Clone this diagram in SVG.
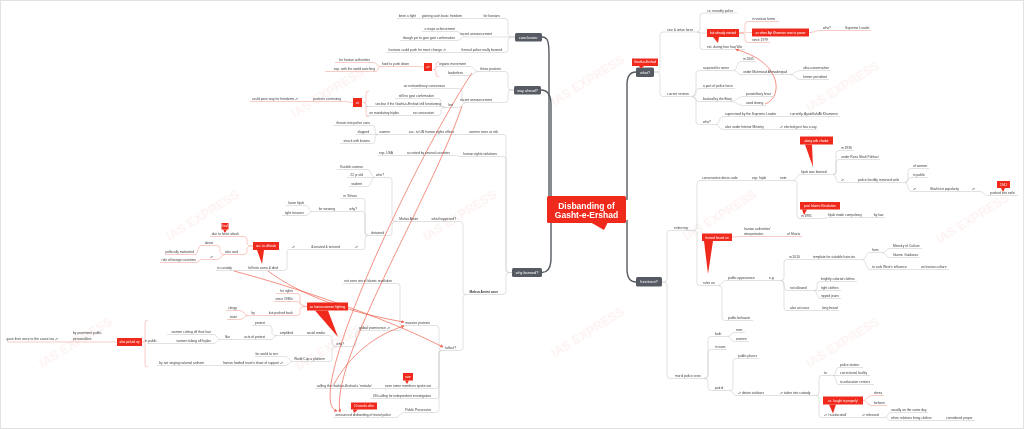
<svg xmlns="http://www.w3.org/2000/svg" width="1024" height="430" viewBox="0 0 1024 430">
<style>
text{font-family:"Liberation Sans",Arial,sans-serif;font-size:3.3px;fill:#3a3a3a}
.e{text-anchor:end}
.c{text-anchor:middle}
.w{fill:#fff}
.dk{font-size:3.8px;fill:#fff;text-anchor:middle}
.rt{font-size:3.1px;fill:#fff;text-anchor:middle}
.b{font-weight:bold}
.g path{fill:none;stroke:#cdcdcd;stroke-width:0.6}
.p path{fill:none;stroke:#f5a79e;stroke-width:0.6}
.r path{fill:none;stroke:#f0604e;stroke-width:0.7;marker-end:url(#ah)}
.d path{fill:none;stroke:#555a61;stroke-width:1.4}
.rb{fill:#ef2a1c}
.db{fill:#555a63}
.wm text{font-size:12.5px;font-weight:bold;fill:#f6cfca;text-anchor:middle}
</style>
<defs>
<marker id="ah" viewBox="0 0 6 6" refX="5" refY="3" markerWidth="3.2" markerHeight="3.2" markerUnits="userSpaceOnUse" orient="auto"><path d="M0,0L6,3L0,6z" fill="#f0604e"/></marker>
</defs>
<rect x="0" y="0" width="1024" height="430" fill="#fff"/>
<rect x="0.5" y="0.5" width="1023" height="428" fill="none" stroke="#e2e2e2" stroke-width="1"/>
<g class="wm" opacity="0.25">
<text transform="translate(330,96) rotate(-32)">IAS EXPRESS</text>
<text transform="translate(590,84) rotate(-32)">IAS EXPRESS</text>
<text transform="translate(845,90) rotate(-32)">IAS EXPRESS</text>
<text transform="translate(205,219) rotate(-32)">IAS EXPRESS</text>
<text transform="translate(462,219) rotate(-32)">IAS EXPRESS</text>
<text transform="translate(722,219) rotate(-32)">IAS EXPRESS</text>
<text transform="translate(975,222) rotate(-32)">IAS EXPRESS</text>
<text transform="translate(78,346) rotate(-32)">IAS EXPRESS</text>
<text transform="translate(335,349) rotate(-32)">IAS EXPRESS</text>
<text transform="translate(590,336) rotate(-32)">IAS EXPRESS</text>
<text transform="translate(845,346) rotate(-32)">IAS EXPRESS</text>
</g>
<g id="connectors">
<g class="d">
<path d="M542,37 C548,37 549,42 549,55 V200"/>
<path d="M541,90 C547,90 551,95 551,105 V200"/>
<path d="M542,272.5 C548,272.5 551,268 551,258 V220"/>
<path d="M636,72 C630,72 627,77 627,85 V200"/>
<path d="M636,282 C630,282 627,277 627,269 V220"/>
</g>
<g class="g">
<path d="M654,72 H657 Q660,72 660,69 V35 Q660,32 663,32 H697"/>
<path d="M654,72 H657 Q660,72 660,75 V93.5 Q660,96.5 663,96.5 H692"/>
<path d="M697,32 Q700,32 700,29 V16 Q700,13 703,13 H737"/>
<path d="M697,32 C700,32 700,33 703,33 H707"/>
<path d="M697,32 Q700,32 700,35 V46.5 Q700,49.5 703,49.5 H745"/>
<path d="M692,96.5 Q696,96.5 696,93.5 V73.5 Q696,70.5 699,70.5 H734"/>
<path d="M692,96.5 C695,96.5 695,88.5 699,88.5 H735"/>
<path d="M692,96.5 C695,96.5 695,101.5 699,101.5 H730"/>
<path d="M692,96.5 Q696,96.5 696,99.5 V121.5 Q696,124.5 699,124.5 H716"/>
<path d="M734,70.5 C737,70.5 737,61.5 741,61.5 H756"/>
<path d="M734,70.5 C737,70.5 737,74.5 741,74.5 H790"/>
<path d="M790,74.5 C795,74.5 795,70.5 800,70.5 H831"/>
<path d="M790,74.5 C795,74.5 795,79.5 800,79.5 H829"/>
<path d="M730,101.5 C737,101.5 737,96.5 744,96.5 H773"/>
<path d="M730,101.5 C737,101.5 737,105.5 744,105.5 H766"/>
<path d="M716,124.5 C719,124.5 719,116.5 723,116.5 H840"/>
<path d="M716,124.5 C719,124.5 719,129.5 723,129.5 H817"/>
<path d="M662,282 H664 Q667,282 667,279 V233.5 Q667,230.5 670,230.5 H692"/>
<path d="M662,282 H664 Q667,282 667,285 V375.5 Q667,378.5 670,378.5 H704"/>
<path d="M692,230.5 Q697,230.5 697,227.5 V183.5 Q697,180.5 700,180.5 H793"/>
<path d="M692,230.5 Q697,230.5 697,233.5 V282.5 Q697,285.5 700,285.5 H718"/>
<path d="M793,180.5 C797,180.5 797,174.5 800,174.5 H833"/>
<path d="M793,180.5 Q797,180.5 797,183.5 V215.5 Q797,218.5 800,218.5 H824"/>
<path d="M833,174.5 Q836,174.5 836,171.5 V153.5 Q836,150.5 839,150.5 H854"/>
<path d="M833,174.5 Q836,174.5 836,171.5 V162.5 Q836,159.5 839,159.5 H880"/>
<path d="M833,174.5 C836,174.5 836,182.5 839,182.5 H905"/>
<path d="M905,182.5 Q908,182.5 908,179.5 V171.5 Q908,168.5 911,168.5 H929"/>
<path d="M905,182.5 C908,182.5 908,177.5 911,177.5 H928"/>
<path d="M905,182.5 C908,182.5 908,191.5 911,191.5 H980 C984,191.5 984,195.5 988,195.5 H1018"/>
<path d="M824,218.5 C826,218.5 826,217.5 828,217.5 H885"/>
<path d="M718,285.5 C722,285.5 722,280.5 726,280.5 H781"/>
<path d="M718,285.5 Q722,285.5 722,288.5 V317.5 Q722,320.5 725,320.5 H753"/>
<path d="M781,280.5 Q784,280.5 784,277.5 V262.5 Q784,259.5 787,259.5 H862"/>
<path d="M781,280.5 C784,280.5 784,290.5 787,290.5 H814"/>
<path d="M781,280.5 Q784,280.5 784,283.5 V307.5 Q784,310.5 787,310.5 H839"/>
<path d="M862,259.5 C866,259.5 866,252.5 870,252.5 H882"/>
<path d="M862,259.5 C866,259.5 866,269.5 870,269.5 H949"/>
<path d="M882,252.5 C886,252.5 886,248.5 890,248.5 H922"/>
<path d="M882,252.5 C886,252.5 886,257.5 890,257.5 H919"/>
<path d="M814,290.5 Q817,290.5 817,287.5 V284.5 Q817,281.5 820,281.5 H857"/>
<path d="M814,290.5 H841"/>
<path d="M814,290.5 C817,290.5 817,298.5 820,298.5 H841"/>
<path d="M704,378.5 Q708,378.5 708,375.5 V339.5 Q708,336.5 711,336.5 H728"/>
<path d="M704,378.5 Q708,378.5 708,375.5 V352.5 Q708,349.5 711,349.5 H727"/>
<path d="M704,378.5 Q708,378.5 708,381.5 V387.5 Q708,390.5 711,390.5 H730"/>
<path d="M728,336.5 C731,336.5 731,332.5 734,332.5 H745"/>
<path d="M728,336.5 C731,336.5 731,341.5 734,341.5 H749"/>
<path d="M730,390.5 Q733,390.5 733,387.5 V361.5 Q733,358.5 736,358.5 H759"/>
<path d="M730,390.5 C733,390.5 733,395.5 736,395.5 H816"/>
<path d="M816,395.5 Q819,395.5 819,392.5 V378.5 Q819,375.5 822,375.5 H833"/>
<path d="M816,395.5 Q819,395.5 819,398.5 V414.5 Q819,417.5 822,417.5 H885"/>
<path d="M833,375.5 C836,375.5 836,367.5 838,367.5 H863"/>
<path d="M833,375.5 H870"/>
<path d="M833,375.5 C836,375.5 836,384.5 838,384.5 H874"/>
<path d="M885,417.5 C888,417.5 888,412.5 890,412.5 H928"/>
<path d="M885,417.5 C888,417.5 888,420.5 890,420.5 H975"/>
<path d="M515,37 H512 Q508,37 508,34 V21.5 Q508,18.5 505,18.5 H397"/>
<path d="M515,37 H465"/>
<path d="M515,37 H512 Q508,37 508,40 V49.5 Q508,52.5 505,52.5 H386"/>
<path d="M465,36.5 C461,36.5 461,31.5 457,31.5 H422"/>
<path d="M465,36.5 C461,36.5 461,40.5 457,40.5 H400"/>
<path d="M514,90 H511 Q508,90 508,87 V74.5 Q508,71.5 505,71.5 H478"/>
<path d="M514,90 H511 Q508,90 508,93 V99.5 Q508,102.5 505,102.5 H466"/>
<path d="M478,71.5 C474,71.5 474,66.5 470,66.5 H436"/>
<path d="M478,71.5 C474,71.5 474,75.5 470,75.5 H450"/>
<path d="M466,102.5 Q462,102.5 462,99.5 V91.5 Q462,88.5 459,88.5 H411"/>
<path d="M466,102.5 C462,102.5 462,107.5 459,107.5 H446"/>
<path d="M446,107.5 Q441,107.5 441,104.5 V101.5 Q441,98.5 438,98.5 H395"/>
<path d="M446,107.5 C444,107.5 444,106.5 442,106.5 H366"/>
<path d="M446,107.5 Q441,107.5 441,110.5 V112.5 Q441,115.5 438,115.5 H367"/>
<path d="M512,272.5 H509 Q506,272.5 506,269.5 V137.5 Q506,134.5 503,134.5 H378"/>
<path d="M512,272.5 H509 Q506,272.5 506,269.5 V159.5 Q506,156.5 503,156.5 H461 C458,156.5 458,155.5 455,155.5 H378"/>
<path d="M512,272.5 H509 Q506,272.5 506,275.5 V291.5 Q506,294.5 503,294.5 H466"/>
<path d="M378,134.5 Q375,134.5 375,131.5 V128.5 Q375,125.5 372,125.5 H333"/>
<path d="M378,134.5 H356"/>
<path d="M378,134.5 Q375,134.5 375,137.5 V140.5 Q375,143.5 372,143.5 H340"/>
<path d="M466,294.5 Q463,294.5 463,291.5 V224.5 Q463,221.5 460,221.5 H396"/>
<path d="M466,294.5 Q463,294.5 463,297.5 V347.5 Q463,350.5 460,350.5 H441"/>
<path d="M396,221.5 Q392,221.5 392,218.5 V180.5 Q392,177.5 389,177.5 H375"/>
<path d="M396,221.5 Q392,221.5 392,224.5 V232.5 Q392,235.5 389,235.5 H368"/>
<path d="M375,177.5 C371,177.5 371,169.5 368,169.5 H337"/>
<path d="M375,177.5 H347"/>
<path d="M375,177.5 C371,177.5 371,186.5 368,186.5 H349"/>
<path d="M368,235.5 Q365,235.5 365,232.5 V201.5 Q365,198.5 362,198.5 H341"/>
<path d="M368,235.5 Q365,235.5 365,232.5 V214.5 Q365,211.5 362,211.5 H312"/>
<path d="M368,235.5 Q365,235.5 365,238.5 V246.5 Q365,249.5 362,249.5 H289"/>
<path d="M312,211.5 C309,211.5 309,205.5 306,205.5 H286"/>
<path d="M312,211.5 C309,211.5 309,215.5 306,215.5 H282"/>
<path d="M289,249.5 Q287,249.5 287,252.5 V267.5 Q287,270.5 284,270.5 H216"/>
<path d="M441,350.5 Q439,350.5 439,347.5 V328.5 Q439,325.5 436,325.5 H405"/>
<path d="M441,350.5 Q439,350.5 439,353.5 V385.5 Q439,388.5 436,388.5 H315"/>
<path d="M441,350.5 Q439,350.5 439,353.5 V395.5 Q439,398.5 436,398.5 H370"/>
<path d="M441,350.5 Q439,350.5 439,353.5 V409.5 Q439,412.5 436,412.5 H404 C400,412.5 400,417.5 396,417.5 H334"/>
<path d="M405,325.5 Q400,325.5 400,322.5 V286.5 Q400,283.5 397,283.5 H343"/>
<path d="M405,325.5 C402,325.5 402,330.5 399,330.5 H360"/>
<path d="M360,330.5 Q356,330.5 356,333.5 V343.5 Q356,346.5 353,346.5 H337"/>
<path d="M337,346.5 Q332,346.5 332,343.5 V338.5 Q332,335.5 329,335.5 H277"/>
<path d="M337,346.5 Q332,346.5 332,349.5 V358.5 Q332,361.5 329,361.5 H293"/>
<path d="M277,335.5 Q272,335.5 272,332.5 V328.5 Q272,325.5 269,325.5 H252"/>
<path d="M277,335.5 C274,335.5 274,339.5 271,339.5 H220"/>
<path d="M220,339.5 C217,339.5 217,334.5 214,334.5 H167"/>
<path d="M220,339.5 C217,339.5 217,343.5 214,343.5 H147"/>
<path d="M293,361.5 C289,361.5 289,356.5 285,356.5 H255"/>
<path d="M293,361.5 C289,361.5 289,365.5 285,365.5 H157"/>
</g>
<g class="p">
<path d="M739,33 Q745,33 745,30 V24.5 Q745,21.5 748,21.5 H779"/>
<path d="M739,33 C745,33 745,32.5 752,32.5"/>
<path d="M739,33 Q745,33 745,36 V39.5 Q745,42.5 748,42.5 H770"/>
<path d="M809,32.5 C815,32.5 815,30.5 821,30.5 H871"/>
<path d="M732,237 C737,237 737,236.5 742,236.5 H802"/>
<path d="M863,400.5 C867,400.5 867,395.5 872,395.5 H884"/>
<path d="M863,400.5 C867,400.5 867,405.5 872,405.5 H887"/>
<path d="M424,67 C421,67 421,66.5 418,66.5 H380"/>
<path d="M380,66.5 C377,66.5 377,62.5 374,62.5 H335"/>
<path d="M380,66.5 C378,66.5 378,71.5 376,71.5 H325"/>
<path d="M353,102.5 C349,102.5 349,101.5 345,101.5 H250"/>
<path d="M439,62 Q436,62 436,65 V67.5 Q436,69.5 433.5,69.5 Q436,69.5 436,71.5 V74 Q436,77 439,77"/>
<path d="M369,91 Q366,91 366,94 V100.5 Q366,102.5 363.5,102.5 Q366,102.5 366,104.5 V114 Q366,117 369,117"/>
<path d="M148,320 Q145,320 145,323 V340 Q145,342 142.5,342 Q145,342 145,344 V364 Q145,367 148,367"/>
<path d="M253,246 Q247,246 247,243 V239.5 Q247,236.5 244,236.5 H210"/>
<path d="M253,246 Q247,246 247,249 V251.5 Q247,254.5 244,254.5 H225"/>
<path d="M225,254.5 Q220,254.5 220,251.5 V248.5 Q220,245.5 217,245.5 H201"/>
<path d="M225,254.5 C221,254.5 221,259.5 217,259.5 H200"/>
<path d="M201,245.5 C198,245.5 198,254.5 195,254.5 H165"/>
<path d="M200,259.5 C199,259.5 199,262.5 197,262.5 H160"/>
<path d="M307,306.5 Q300,306.5 300,303.5 V296.5 Q300,293.5 297,293.5 H276"/>
<path d="M307,306.5 C301,306.5 301,301.5 297,301.5 H274"/>
<path d="M307,306.5 Q300,306.5 300,309.5 V312.5 Q300,315.5 297,315.5 H248"/>
<path d="M248,315.5 C244,315.5 244,310.5 240,310.5 H226"/>
<path d="M248,315.5 C244,315.5 244,319.5 240,319.5 H227"/>
<path d="M117,342 H7"/>
</g>
<g class="r">
<path d="M765,104 C783,98 783,62 736,49.5"/>
<path d="M234,271 C290,286 380,315 443,347"/>
<path d="M268,271 C300,295 350,313 404,322"/>
<path d="M472,73 C420,150 300,400 337,411"/>
<path d="M462,106 C430,200 330,360 340,412"/>
<path d="M334,384 C350,355 375,335 404,326"/>
</g>
</g>
<g id="n-root"><rect class="rb" x="547" y="196" width="79" height="27" rx="1.5"/><path class="rb" d="M590,222 L608,222 L604,230 Z"/><text class="w c b" x="586.5" y="208.5" style="font-size:8.5px">Disbanding of</text><text class="w c b" x="586.5" y="218" style="font-size:8.5px">Gasht-e-Ershad</text></g>
<g id="n-what"><rect class="db" x="636" y="67.5" width="18" height="9.5" rx="1.5"/><text class="dk" x="645" y="73.6">what?</text></g>
<g id="n-gasht"><rect class="rb" x="632" y="58.5" width="26" height="7.5"/><path class="rb" d="M639,66 L644,66 L641,68.5 Z"/><text class="rt" x="645" y="63.4">Gasht-e-Ershad</text></g>
<g id="n-vice"><text x="667" y="30.6">vice &amp; virtue force</text></g>
<g id="n-current"><text x="667" y="95.1">current version</text></g>
<g id="n-ie"><text x="707" y="11.8">i.e. morality police</text></g>
<g id="n-already"><rect class="rb" x="707" y="29" width="32" height="8"/><path class="rb" d="M713,37 L719,37 L718,43 Z"/><text class="rt" x="723" y="34.1">but already existed</text></g>
<g id="n-est"><text x="707" y="48.1">est. during Iran Iraq War</text></g>
<g id="n-various"><text x="752" y="20.4">in various forms</text></g>
<g id="n-khomeini"><rect class="rb" x="752" y="28.5" width="57" height="8"/><text class="rt" x="780.5" y="33.6">as when Ayt Khomeini rose to power</text></g>
<g id="n-1979"><text x="752" y="41.1">since 1979</text></g>
<g id="n-who1"><text x="823" y="29.1">who?</text></g>
<g id="n-supreme"><text x="845" y="29.1">Supreme Leader</text></g>
<g id="n-acquired"><text x="703" y="69.1">acquired its name</text></g>
<g id="n-2005"><text x="743" y="60.1">in 2005</text></g>
<g id="n-ahmadi"><text x="743" y="73.1">under Mahmoud Ahmadinejad</text></g>
<g id="n-ultra"><text x="803" y="69.1">ultra-conservative</text></g>
<g id="n-former"><text x="803" y="78.1">former president</text></g>
<g id="n-part"><text x="703" y="87.1">a part of police force</text></g>
<g id="n-basij"><text x="703" y="100.1">backed by the Basij</text></g>
<g id="n-para"><text x="746" y="95.1">paramilitary force</text></g>
<g id="n-used"><text x="746" y="104.1">used during</text></g>
<g id="n-who2"><text x="703" y="123.1">who?</text></g>
<g id="n-supervised"><text x="725" y="115.1">supervised by the Supreme Leader</text></g>
<g id="n-khamenei"><text x="790" y="115.1">currently, Ayatollah Ali Khamenei</text></g>
<g id="n-interior"><text x="725" y="128.1">also under Interior Ministry</text></g>
<g id="n-elected"><text x="780" y="128.1">-&gt; elected govt has a say</text></g>
<g id="n-functions"><rect class="db" x="636" y="277" width="26" height="9.5" rx="1.5"/><text class="dk" x="649" y="283.2">functions?</text></g>
<g id="n-enforcing"><text x="674" y="229.1">enforcing:</text></g>
<g id="n-moralcrew"><text x="675" y="377.1">moral police crew</text></g>
<g id="n-dresscode"><text x="702" y="179.1">conservative dress code</text></g>
<g id="n-esphijab"><text x="752" y="179.1">esp. hijab</text></g>
<g id="n-note"><text x="780" y="179.1">note:</text></g>
<g id="n-chador"><rect class="rb" x="800" y="136.5" width="33" height="8"/><path class="rb" d="M805,144.5 L812,144.5 L813,167 Z"/><text class="rt" x="816.5" y="141.6">along with chador</text></g>
<g id="n-hijabbanned"><text x="801" y="173.1">hijab was banned</text></g>
<g id="n-1936"><text x="841" y="149.1">in 1936</text></g>
<g id="n-reza"><text x="841" y="158.1">under Reza Shah Pahlavi</text></g>
<g id="n-arrow1"><text x="841" y="181.1">-&gt;</text></g>
<g id="n-veils"><text x="858" y="181.1">police forcibly removed veils</text></g>
<g id="n-ofwomen"><text x="913" y="167.1">of women</text></g>
<g id="n-inpublic1"><text x="913" y="176.1">in public</text></g>
<g id="n-arrow2"><text x="913" y="190.1">-&gt;</text></g>
<g id="n-shah"><text x="930" y="190.1">Shah lost popularity</text></g>
<g id="n-arrow3"><text x="972" y="190.1">-&gt;</text></g>
<g id="n-exile"><text x="990" y="194.1">pushed into exile</text></g>
<g id="n-1941"><rect class="rb" x="997" y="181" width="13" height="7"/><path class="rb" d="M1001,188 L1005,188 L1003,192 Z"/><text class="rt" x="1003.5" y="185.7">1941</text></g>
<g id="n-postislamic"><rect class="rb" x="800" y="202" width="40" height="7.5"/><path class="rb" d="M802,209.5 L807,209.5 L804,215 Z"/><text class="rt" x="820" y="207">post Islamic Revolution</text></g>
<g id="n-1981"><text x="801" y="217.1">in 1981</text></g>
<g id="n-compulsory"><text x="828" y="216.1">hijab made compulsory</text></g>
<g id="n-bylaw"><text x="874" y="216.1">by law</text></g>
<g id="n-framed"><rect class="rb" x="702" y="233.5" width="30" height="7.5"/><path class="rb" d="M704,241 L713,241 L708,274 Z"/><text class="rt" x="717" y="238.5">framed based on</text></g>
<g id="n-interp"><text x="744" y="230.1">Iranian authorities'</text><text x="744" y="235.1">interpretation</text></g>
<g id="n-sharia"><text x="787" y="235.1">of Sharia</text></g>
<g id="n-ruleson"><text x="703" y="284.1">rules on</text></g>
<g id="n-pubapp"><text x="728" y="279.1">public appearance</text></g>
<g id="n-eg"><text x="769" y="279.1">e.g.</text></g>
<g id="n-2010"><text x="789" y="258.1">in 2010</text></g>
<g id="n-template"><text x="813" y="258.1">template for suitable haircuts</text></g>
<g id="n-from"><text x="872" y="251.1">from</text></g>
<g id="n-ministry"><text x="893" y="247.1">Ministry of Culture</text></g>
<g id="n-guidance"><text x="893" y="256.1">Islamic Guidance</text></g>
<g id="n-curb"><text x="872" y="268.1">to curb West's influence</text></g>
<g id="n-oniranian"><text x="921" y="268.1">on Iranian culture</text></g>
<g id="n-notallowed"><text x="790" y="289.1">not allowed</text></g>
<g id="n-bright"><text x="821" y="280.1">brightly colored clothes</text></g>
<g id="n-tight"><text x="821" y="289">tight clothes</text></g>
<g id="n-ripped"><text x="821" y="297.1">ripped jeans</text></g>
<g id="n-alsoissue"><text x="790" y="309.1">also an issue</text></g>
<g id="n-beard"><text x="822" y="309.1">long beard</text></g>
<g id="n-behavior"><text x="728" y="319.1">public behavior</text></g>
<g id="n-both"><text x="715" y="335.1">both</text></g>
<g id="n-men"><text x="736" y="331.1">men</text></g>
<g id="n-women2"><text x="736" y="340.1">women</text></g>
<g id="n-vans"><text x="715" y="348.1">in vans</text></g>
<g id="n-patrol"><text x="715" y="389.1">patrol</text></g>
<g id="n-places"><text x="738" y="357.1">public places</text></g>
<g id="n-detain"><text x="738" y="394.1">-&gt; detain violators</text></g>
<g id="n-custody"><text x="780" y="394.1">-&gt; taken into custody</text></g>
<g id="n-to"><text x="824" y="374.1">to</text></g>
<g id="n-station"><text x="840" y="366.1">police station</text></g>
<g id="n-correctional"><text x="840" y="374.1">correctional facility</text></g>
<g id="n-reeducation"><text x="840" y="383.1">re-education centers</text></g>
<g id="n-taught"><rect class="rb" x="823" y="396.5" width="40" height="8"/><path class="rb" d="M829,404.5 L836,404.5 L833,413.5 Z"/><text class="rt" x="843" y="401.6">i.e. 'taught to properly'</text></g>
<g id="n-dress"><text x="874" y="394.1">dress</text></g>
<g id="n-behave"><text x="874" y="404.1">behave</text></g>
<g id="n-reeducated"><text x="824" y="416.1">-&gt; 're-educated'</text></g>
<g id="n-released"><text x="862" y="416.1">-&gt; released</text></g>
<g id="n-sameday"><text x="891" y="411.1">usually on the same day</text></g>
<g id="n-relatives"><text x="891" y="419.1">when relatives bring clothes</text></g>
<g id="n-proper"><text x="946" y="419.1">considered proper</text></g>
<g id="n-conclusion"><rect class="db" x="515" y="33" width="27" height="8.5" rx="1.5"/><text class="dk" x="528.5" y="38.6">conclusion:</text></g>
<g id="n-foriranians"><text class="e" x="500" y="17.1">for Iranians</text></g>
<g id="n-gaining"><text class="e" x="462" y="17.1">gaining such basic freedom</text></g>
<g id="n-fight"><text class="e" x="416" y="17.1">been a fight</text></g>
<g id="n-recent1"><text class="e" x="492" y="35.1">recent announcement</text></g>
<g id="n-major"><text class="e" x="455" y="30.1">a major achievement</text></g>
<g id="n-though"><text class="e" x="455" y="39.1">though yet to gain govt confirmation</text></g>
<g id="n-ifmoral"><text class="e" x="502" y="51.1">if moral police really banned</text></g>
<g id="n-pushmore"><text class="e" x="446" y="51.1">Iranians could push for more change -&gt;</text></g>
<g id="n-wayahead"><rect class="db" x="514" y="86" width="27" height="8.5" rx="1.5"/><text class="dk" x="527.5" y="91.6">way ahead?</text></g>
<g id="n-these"><text class="e" x="501" y="70.1">these protests</text></g>
<g id="n-organic"><text class="e" x="466" y="65.1">organic movement</text></g>
<g id="n-leaderless"><text class="e" x="463" y="74.1">leaderless</text></g>
<g id="n-sum1"><rect class="rb" x="424" y="63" width="8" height="8"/><text class="rt" x="428" y="68.1">=&gt;</text></g>
<g id="n-hardpush"><text class="e" x="409" y="65.1">hard to push down</text></g>
<g id="n-forauth"><text class="e" x="370" y="61.1">for Iranian authorities</text></g>
<g id="n-world"><text class="e" x="375" y="70.1">esp. with the world watching</text></g>
<g id="n-recent2"><text class="e" x="492" y="101.1">recent announcement</text></g>
<g id="n-extra"><text class="e" x="445" y="87.1">an extraordinary concession</text></g>
<g id="n-but"><text class="e" x="453" y="106.1">but</text></g>
<g id="n-stillno"><text class="e" x="434" y="97.1">still no govt confirmation</text></g>
<g id="n-unclear"><text class="e" x="441" y="105.1">unclear if the Gasht-e-Ershad still functioning</text></g>
<g id="n-noconc"><text class="e" x="434" y="114.1">no concession</text></g>
<g id="n-mandatory"><text class="e" x="399" y="114.1">on mandatory hijabs</text></g>
<g id="n-sum2"><rect class="rb" x="353" y="98" width="9" height="9"/><text class="rt" x="357.5" y="103.6">=&gt;</text></g>
<g id="n-continuing"><text class="e" x="341" y="100.1">protests continuing</text></g>
<g id="n-pave"><text class="e" x="298" y="100.1">could pave way for freedoms -&gt;</text></g>
<g id="n-whybanned"><rect class="db" x="512" y="268" width="30" height="9" rx="1.5"/><text class="dk" x="527" y="273.9">why banned?</text></g>
<g id="n-risk"><text class="e" x="498" y="133.1">women more at risk</text></g>
<g id="n-unofficer"><text class="e" x="454" y="133.1">acc. to UN human rights officer</text></g>
<g id="n-women1"><text class="e" x="390" y="133.1">women</text></g>
<g id="n-vans2"><text class="e" x="370" y="124.1">thrown into police vans</text></g>
<g id="n-slapped"><text class="e" x="369" y="133.1">slapped</text></g>
<g id="n-batons"><text class="e" x="370" y="142.1">struck with batons</text></g>
<g id="n-hrv"><text class="e" x="497" y="155.1">human rights violations</text></g>
<g id="n-noted"><text class="e" x="450" y="154.1">as noted by several countries</text></g>
<g id="n-usa"><text class="e" x="393" y="154.1">esp. USA</text></g>
<g id="n-case"><text class="e b" x="498" y="293.1">Mahsa Amini case</text></g>
<g id="n-happened"><text class="e" x="456" y="220.1">what happened?</text></g>
<g id="n-mahsa"><text class="e" x="418" y="220.1">Mahsa Amini</text></g>
<g id="n-who3"><text class="e" x="384" y="176.1">who?</text></g>
<g id="n-kurdish"><text class="e" x="363" y="168.1">Kurdish woman</text></g>
<g id="n-22"><text class="e" x="363" y="176.1">22 yr old</text></g>
<g id="n-student"><text class="e" x="362" y="185.1">student</text></g>
<g id="n-detained"><text class="e" x="384" y="234.1">detained</text></g>
<g id="n-tehran"><text class="e" x="357" y="197.1">in Tehran</text></g>
<g id="n-why1"><text class="e" x="357" y="210.1">why?</text></g>
<g id="n-wearing"><text class="e" x="335" y="210.1">for wearing</text></g>
<g id="n-loose"><text class="e" x="304" y="204.1">loose hijab</text></g>
<g id="n-trousers"><text class="e" x="304" y="214.1">tight trousers</text></g>
<g id="n-arr4"><text class="e" x="358" y="248.1">-&gt;</text></g>
<g id="n-illtreated"><text class="e" x="340" y="248.1">ill-treated &amp; tortured</text></g>
<g id="n-arr5"><text class="e" x="295" y="248.1">-&gt;</text></g>
<g id="n-coma"><text class="e" x="278" y="269.1">fell into coma &amp; died</text></g>
<g id="n-incustody"><text class="e" x="232" y="269.1">in custody</text></g>
<g id="n-officials"><rect class="rb" x="253" y="242" width="26" height="8"/><path class="rb" d="M257,250 L264,250 L262,264 Z"/><text class="rt" x="266" y="247.1">acc. to officials</text></g>
<g id="n-heart"><text class="e" x="239" y="235.1">due to heart attack</text></g>
<g id="n-lied"><rect class="rb" x="221.5" y="223" width="7" height="6.5"/><path class="rb" d="M223,229.5 L227,229.5 L225,233 Z"/><text class="rt" x="225" y="227.4">lied</text></g>
<g id="n-alsosaid"><text class="e" x="238" y="253.1">also said</text></g>
<g id="n-about"><text class="e" x="213" y="244.1">about</text></g>
<g id="n-political"><text class="e" x="194" y="253.1">politically motivated</text></g>
<g id="n-arr6"><text class="e" x="213" y="258.1">-&gt;</text></g>
<g id="n-foreign"><text class="e" x="196" y="261.1">role of foreign countries</text></g>
<g id="n-notseen"><text class="e" x="392" y="282.1">not seen since Islamic revolution</text></g>
<g id="n-massive"><text class="e" x="430" y="324.1">massive protests</text></g>
<g id="n-global"><text class="e" x="390" y="329.1">global prominence -&gt;</text></g>
<g id="n-why2"><text class="e" x="344" y="345.1">why?</text></g>
<g id="n-fighting"><rect class="rb" x="307" y="302.5" width="41" height="8"/><path class="rb" d="M315,310.5 L328,310.5 L338,337 Z"/><text class="rt" x="327.5" y="307.6">as Iranian women fighting</text></g>
<g id="n-forrights"><text class="e" x="293" y="292.1">for rights</text></g>
<g id="n-since1980"><text class="e" x="293" y="300.1">since 1980s</text></g>
<g id="n-pushedback"><text class="e" x="293" y="314.1">but pushed back</text></g>
<g id="n-by1"><text class="e" x="255" y="314.1">by</text></g>
<g id="n-clergy"><text class="e" x="237" y="309.1">clergy</text></g>
<g id="n-state"><text class="e" x="237" y="318.1">state</text></g>
<g id="n-social"><text class="e" x="325" y="334.1">social media</text></g>
<g id="n-amplified"><text class="e" x="293" y="334.1">amplified</text></g>
<g id="n-protest"><text class="e" x="265" y="324.1">protest</text></g>
<g id="n-acts"><text class="e" x="265" y="338.1">acts of protest</text></g>
<g id="n-like"><text class="e" x="230" y="338.1">like</text></g>
<g id="n-hair"><text class="e" x="211" y="333.1">women cutting off their hair</text></g>
<g id="n-hijabs"><text class="e" x="211" y="342.1">women taking off hijabs</text></g>
<g id="n-inpublic2"><text class="e" x="157" y="342.1">in public</text></g>
<g id="n-worldcup"><text class="e" x="325" y="360.1">World Cup a platform</text></g>
<g id="n-worldsee"><text class="e" x="278" y="355.1">for world to see</text></g>
<g id="n-football"><text class="e" x="283" y="364.1">Iranian football team's show of support -&gt;</text></g>
<g id="n-anthem"><text class="e" x="204" y="364.1">by not singing national anthem</text></g>
<g id="n-pickedup"><rect class="rb" x="117" y="338" width="25" height="8"/><text class="rt" x="129.5" y="343.1">also picked up</text></g>
<g id="n-prominent"><text x="73" y="334.1">by prominent public</text><text x="73" y="339.6">personalities</text></g>
<g id="n-gave"><text class="e" x="58" y="340.1">gave their voice to the cause too -&gt;</text></g>
<g id="n-fallout"><text class="e" x="456" y="349.1">fallout?</text></g>
<g id="n-spoke"><text class="e" x="431" y="387.1">even some members spoke out</text></g>
<g id="n-mistake"><text class="e" x="372" y="387.1">calling the Gasht-e-Ershad a 'mistake'</text></g>
<g id="n-rare"><rect class="rb" x="403" y="373" width="10" height="7.5"/><path class="rb" d="M405,380.5 L409,380.5 L407,384 Z"/><text class="rt" x="408" y="378">rare</text></g>
<g id="n-un"><text class="e" x="431" y="397.1">UN calling for independent investigation</text></g>
<g id="n-prosecutor"><text class="e" x="431" y="411.1">Public Prosecutor</text></g>
<g id="n-announced"><text class="e" x="391" y="416.1">announced disbanding of moral police</text></g>
<g id="n-10weeks"><rect class="rb" x="351" y="402.5" width="26" height="7"/><path class="rb" d="M353,409.5 L358,409.5 L354,413 Z"/><text class="rt" x="364" y="407">10 weeks after</text></g>
</svg>
